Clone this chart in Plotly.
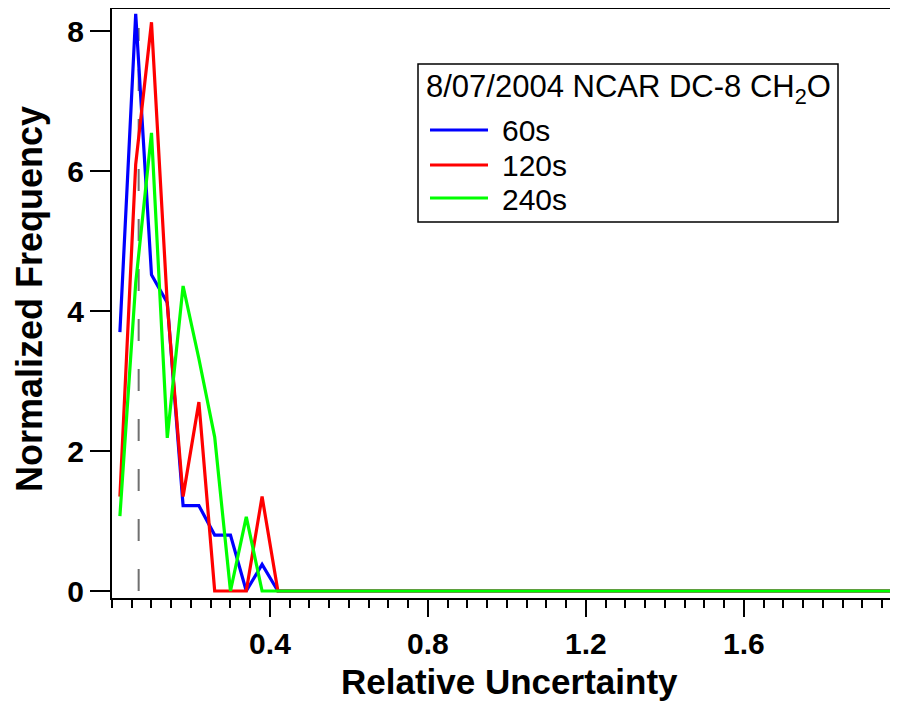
import plotly.graph_objects as go

# Bin centres (Relative Uncertainty)
bin_centers = [0.02, 0.06, 0.10, 0.14, 0.18, 0.22, 0.26, 0.30, 0.34, 0.38,
               0.42, 0.46, 0.50, 0.54, 0.58, 0.62, 0.66, 0.70, 0.74, 0.78,
               0.82, 0.86, 0.90, 0.94, 0.98, 1.02, 1.06, 1.10, 1.14, 1.18,
               1.22, 1.26, 1.30, 1.34, 1.38, 1.42, 1.46, 1.50, 1.54, 1.58,
               1.62, 1.66, 1.70, 1.74, 1.78, 1.82, 1.86, 1.90, 1.94, 1.98]

freq_60s = [3.70, 8.25, 4.52, 4.12, 1.22, 1.22, 0.80, 0.80, 0.00, 0.38,
            0.00, 0.00, 0.00, 0.00, 0.00, 0.00, 0.00, 0.00, 0.00, 0.00,
            0.00, 0.00, 0.00, 0.00, 0.00, 0.00, 0.00, 0.00, 0.00, 0.00,
            0.00, 0.00, 0.00, 0.00, 0.00, 0.00, 0.00, 0.00, 0.00, 0.00,
            0.00, 0.00, 0.00, 0.00, 0.00, 0.00, 0.00, 0.00, 0.00, 0.00]

freq_120s = [1.35, 6.10, 8.13, 4.10, 1.35, 2.70, 0.00, 0.00, 0.00, 1.35,
             0.00, 0.00, 0.00, 0.00, 0.00, 0.00, 0.00, 0.00, 0.00, 0.00,
             0.00, 0.00, 0.00, 0.00, 0.00, 0.00, 0.00, 0.00, 0.00, 0.00,
             0.00, 0.00, 0.00, 0.00, 0.00, 0.00, 0.00, 0.00, 0.00, 0.00,
             0.00, 0.00, 0.00, 0.00, 0.00, 0.00, 0.00, 0.00, 0.00, 0.00]

freq_240s = [1.07, 4.40, 6.55, 2.19, 4.36, 3.32, 2.20, 0.00, 1.06, 0.00,
             0.00, 0.00, 0.00, 0.00, 0.00, 0.00, 0.00, 0.00, 0.00, 0.00,
             0.00, 0.00, 0.00, 0.00, 0.00, 0.00, 0.00, 0.00, 0.00, 0.00,
             0.00, 0.00, 0.00, 0.00, 0.00, 0.00, 0.00, 0.00, 0.00, 0.00,
             0.00, 0.00, 0.00, 0.00, 0.00, 0.00, 0.00, 0.00, 0.00, 0.00]

series_names = ["60s", "120s", "240s"]
series_colors = ["#0000FF", "#FF0000", "#00FF00"]
legend_title = "8/07/2004 NCAR DC-8 CH<sub>2</sub>O"

# Dashed reference line
ref_x = 0.0675
ref_y = [0.0, 8.05]

x_tick_vals = [0.4, 0.8, 1.2, 1.6]
x_tick_text = ["0.4", "0.8", "1.2", "1.6"]
y_tick_vals = [0, 2, 4, 6, 8]
y_tick_text = ["0", "2", "4", "6", "8"]
x_title = "Relative Uncertainty"
y_title = "Normalized Frequency"

FONT = "Liberation Sans, Arial, Helvetica, sans-serif"

# The page body has an 8px default margin, so the figure is sized to fit
# inside the 898x702 window; geometry below is given in window pixels.
PAGE_OFF = 8
WIN_W, WIN_H = 898, 702
L, R, T, B = 112, 894, 9, 598   # plot area in window pixels


def px_x(p):
    return (p - L) / (R - L)


def px_y(p):
    return (B - p) / (B - T)


fig = go.Figure()

fig.add_trace(go.Scatter(
    x=[ref_x, ref_x], y=ref_y, mode="lines",
    line=dict(color="#707070", width=2, dash="22px,28px"),
    showlegend=False, hoverinfo="skip"))

for name, color, vals in zip(series_names, series_colors,
                             [freq_60s, freq_120s, freq_240s]):
    fig.add_trace(go.Scatter(
        x=bin_centers, y=vals, mode="lines", name=name,
        line=dict(color=color, width=3.2), showlegend=False))

shapes = []
annotations = []

# Legend box (drawn manually to match the reference layout)
shapes.append(dict(type="rect", xref="paper", yref="paper",
                   x0=px_x(418), x1=px_x(838), y0=px_y(222), y1=px_y(64),
                   line=dict(color="black", width=1.5),
                   fillcolor="white", layer="above"))
annotations.append(dict(xref="paper", yref="paper", x=px_x(424), y=px_y(89),
                        xanchor="left", yanchor="middle", showarrow=False,
                        text=legend_title,
                        font=dict(family=FONT, size=31, color="black")))
row_y = [130, 165, 198]
for name, color, ry in zip(series_names, series_colors, row_y):
    shapes.append(dict(type="line", xref="paper", yref="paper",
                       x0=px_x(430), x1=px_x(488), y0=px_y(ry), y1=px_y(ry),
                       line=dict(color=color, width=3), layer="above"))
    annotations.append(dict(xref="paper", yref="paper", x=px_x(500), y=px_y(ry + 1),
                            xanchor="left", yanchor="middle", showarrow=False,
                            text=name,
                            font=dict(family=FONT, size=30, color="black")))

# Axis titles
annotations.append(dict(xref="paper", yref="paper", x=px_x(509), y=px_y(681),
                        xanchor="center", yanchor="middle", showarrow=False,
                        text="<b>" + x_title + "</b>",
                        font=dict(family=FONT, size=35, color="black")))
annotations.append(dict(xref="paper", yref="paper", x=px_x(29), y=px_y(299),
                        xanchor="center", yanchor="middle", showarrow=False,
                        textangle=-90,
                        text="<b>" + y_title + "</b>",
                        font=dict(family=FONT, size=36, color="black")))

fig_w = WIN_W - PAGE_OFF
fig_h = WIN_H - PAGE_OFF

fig.update_layout(
    width=fig_w, height=fig_h,
    margin=dict(l=L - PAGE_OFF, r=fig_w - (R - PAGE_OFF),
                t=T - PAGE_OFF, b=fig_h - (B - PAGE_OFF)),
    paper_bgcolor="white", plot_bgcolor="white",
    font=dict(family=FONT, color="black"),
    showlegend=False,
    shapes=shapes,
    annotations=annotations,
    xaxis=dict(
        range=[0, 1.98], automargin=False,
        showgrid=False, zeroline=False,
        showline=True, linecolor="black", linewidth=2,
        mirror=True,
        ticks="outside", ticklen=17, tickwidth=1.5, tickcolor="black",
        tickvals=x_tick_vals, ticktext=x_tick_text,
        tickfont=dict(family=FONT, size=30, color="black", weight="bold"),
        ticklabelstandoff=1,
        minor=dict(dtick=0.05, tick0=0, ticks="outside", ticklen=8,
                   tickwidth=1.5, tickcolor="black", showgrid=False),
    ),
    yaxis=dict(
        range=[-0.1, 8.32], automargin=False,
        showgrid=False, zeroline=False,
        showline=True, linecolor="black", linewidth=2,
        ticks="outside", ticklen=20, tickwidth=1.5, tickcolor="black",
        tickvals=y_tick_vals, ticktext=y_tick_text,
        tickfont=dict(family=FONT, size=30, color="black", weight="bold"),
    ),
)

fig.write_html("out.html")
